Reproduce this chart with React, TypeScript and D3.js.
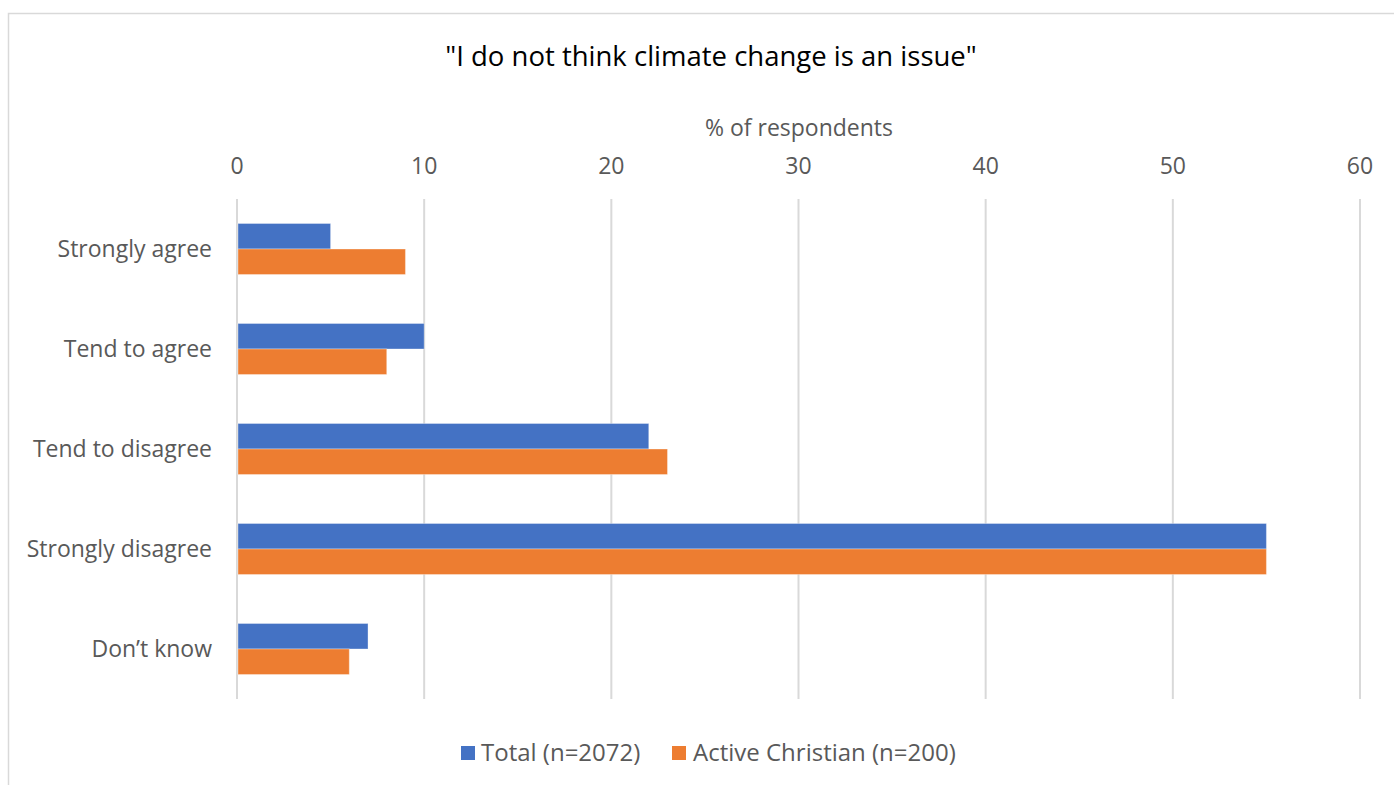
import React from "react";
import * as d3 from "d3";

const categories = ["Strongly agree", "Tend to agree", "Tend to disagree", "Strongly disagree", "Don\u2019t know"];
const seriesNames = ["Total (n=2072)", "Active Christian (n=200)"];
const totalValues = [5, 10, 22, 55, 7];
const christianValues = [9, 8, 23, 55, 6];
const xTicks = [0, 10, 20, 30, 40, 50, 60];
const colors = ["#4472C4", "#ED7D31"];

const W = 1394;
const H = 785;
const FONT = "'Open Sans', Lato, sans-serif";
const TEXT = "#595959";
const GRID = "#d9d9d9";
const LABEL_SIZE = 23;
// vertical nudge so that middle-anchored text sits on the optical centre
const DY = 2;

export default function App() {
  const x = d3.scaleLinear().domain([0, 60]).range([237, 1360]);
  const y = d3.scaleBand<string>().domain(categories).range([199, 699]);
  const inner = d3
    .scaleBand<number>()
    .domain([0, 1])
    .range([0, y.bandwidth() / 1.96]);
  const groupOffset = (y.bandwidth() - y.bandwidth() / 1.96) / 2;
  const series = [totalValues, christianValues];

  return (
    <svg
      width={W}
      height={H}
      style={{ position: "absolute", left: 0, top: 0, background: "#fff" }}
      fontFamily={FONT}
    >
      <rect x={8.5} y={13.5} width={W} height={H} fill="#fff" stroke={GRID} strokeWidth={1.5} />

      <text x={711} y={57 + DY} textAnchor="middle" dominantBaseline="middle" fontSize={27.5} fill="#000">
        "I do not think climate change is an issue"
      </text>

      <text x={799} y={128 + DY} textAnchor="middle" dominantBaseline="middle" fontSize={LABEL_SIZE} fill={TEXT}>
        % of respondents
      </text>

      {xTicks.map((t) => (
        <g key={t}>
          <line x1={x(t)} x2={x(t)} y1={199} y2={699} stroke={GRID} strokeWidth={2} />
          <text x={x(t)} y={166 + DY} textAnchor="middle" dominantBaseline="middle" fontSize={LABEL_SIZE} fill={TEXT}>
            {t}
          </text>
        </g>
      ))}

      {categories.map((c, i) => (
        <g key={c}>
          <text
            x={212}
            y={(y(c) as number) + y.bandwidth() / 2 + DY}
            textAnchor="end"
            dominantBaseline="middle"
            fontSize={LABEL_SIZE}
            fill={TEXT}
          >
            {c}
          </text>
          {series.map((vals, s) => (
            <rect
              key={s}
              x={x(0) + 1}
              y={(y(c) as number) + groupOffset + (inner(s) as number)}
              width={x(vals[i]) - x(0) - 1}
              height={inner.bandwidth()}
              fill={colors[s]}
              stroke="#ffffff"
              strokeOpacity={0.35}
              strokeWidth={1}
            />
          ))}
        </g>
      ))}

      {/* legend */}
      <rect x={461} y={746} width={14} height={14} fill={colors[0]} />
      <text x={481} y={753 + DY} dominantBaseline="middle" fontSize={24} fill={TEXT}>
        {seriesNames[0]}
      </text>
      <rect x={672} y={746} width={14} height={14} fill={colors[1]} />
      <text x={693} y={753 + DY} dominantBaseline="middle" fontSize={24} fill={TEXT}>
        {seriesNames[1]}
      </text>
    </svg>
  );
}
